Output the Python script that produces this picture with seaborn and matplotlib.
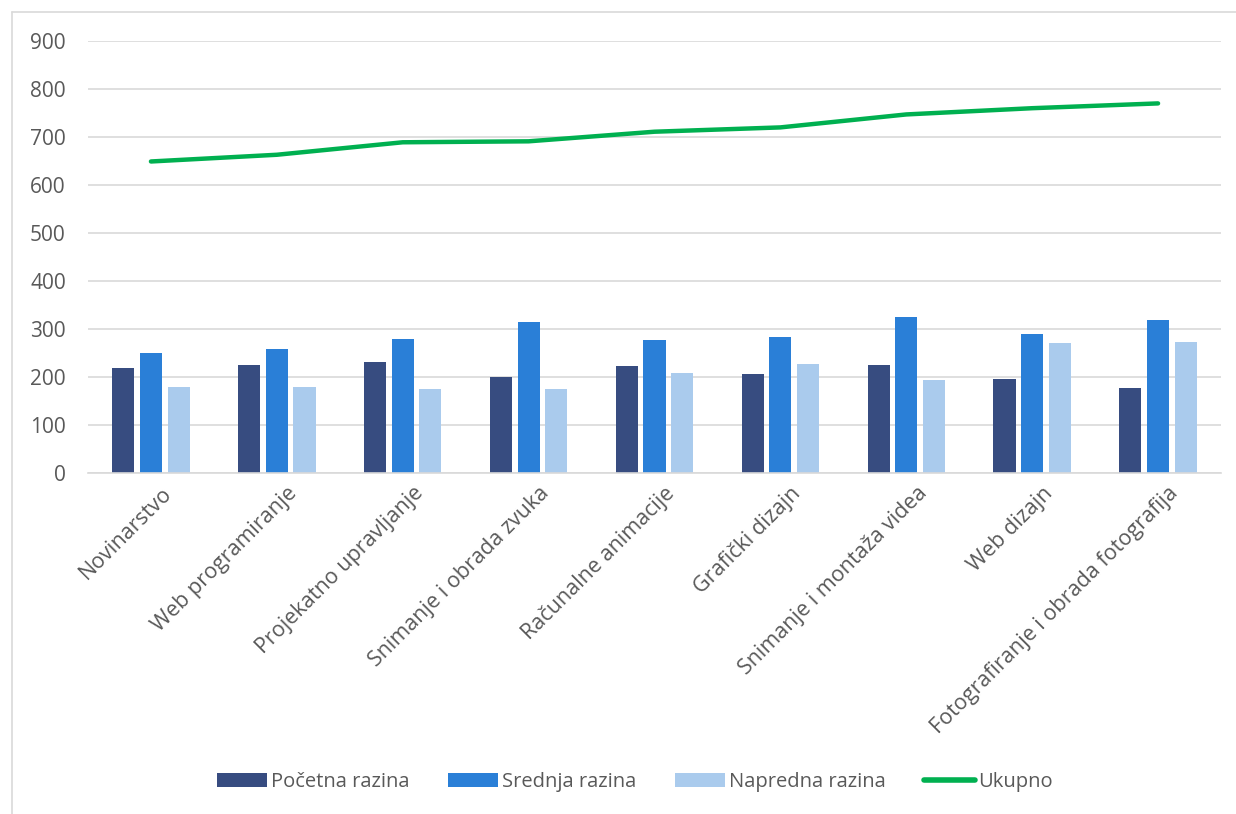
import matplotlib
matplotlib.use("Agg")
import matplotlib.pyplot as plt
import matplotlib.transforms as mtransforms
import seaborn as sns
import pandas as pd
from matplotlib.patches import Patch
from matplotlib.lines import Line2D

categories = [
    "Novinarstvo",
    "Web programiranje",
    "Projekatno upravljanje",
    "Snimanje i obrada zvuka",
    "Računalne animacije",
    "Grafički dizajn",
    "Snimanje i montaža videa",
    "Web dizajn",
    "Fotografiranje i obrada fotografija",
]
pocetna = [218, 224, 232, 200, 223, 207, 225, 195, 177]
srednja = [251, 258, 280, 314, 277, 283, 326, 289, 319]
napredna = [179, 179, 175, 174, 208, 228, 193, 271, 272]
ukupno = [649, 663, 689, 691, 711, 720, 747, 760, 770]

series_names = ["Početna razina", "Srednja razina", "Napredna razina"]
line_name = "Ukupno"
colors = ["#374C80", "#2A7FD7", "#AACBED"]
line_color = "#00B050"
text_color = "#595959"
grid_color = "#D9D9D9"

sns.set_theme(style="white")
plt.rcParams["font.family"] = ["Open Sans", "DejaVu Sans"]

df = pd.DataFrame({
    "kategorija": categories * 3,
    "razina": sum([[n] * len(categories) for n in series_names], []),
    "vrijednost": pocetna + srednja + napredna,
})

fig = plt.figure(figsize=(12.36, 8.14), dpi=100)
ax = fig.add_axes([88 / 1236, 1 - 473 / 814, (1221 - 88) / 1236, (473 - 41) / 814])

sns.barplot(data=df, x="kategorija", y="vrijednost", hue="razina",
            order=categories, hue_order=series_names, palette=colors,
            width=0.66, gap=0.2, saturation=1, legend=False, ax=ax,
            edgecolor="none")
sns.lineplot(x=list(range(len(categories))), y=ukupno, color=line_color,
             linewidth=3.2, ax=ax, solid_capstyle="round", legend=False)

ax.set_xlim(-0.5, len(categories) - 0.5)
ax.set_ylim(0, 900)
ax.set_yticks(range(0, 901, 100))
ax.yaxis.grid(True, color=grid_color, linewidth=1.2)
ax.set_axisbelow(True)
for s in ["top", "right", "left"]:
    ax.spines[s].set_visible(False)
ax.spines["bottom"].set_color(grid_color)
ax.spines["bottom"].set_linewidth(1.2)
ax.set_xlabel("")
ax.set_ylabel("")
ax.tick_params(axis="y", length=0, pad=16, labelsize=15, labelcolor=text_color)
ax.tick_params(axis="x", length=0, pad=7, labelsize=15.5, labelcolor=text_color)
ax.set_xticks(range(len(categories)))
ax.set_xticklabels(categories, rotation=45, ha="right", rotation_mode="anchor")
shift = mtransforms.ScaledTranslation(0.1, 0, fig.dpi_scale_trans)
for lbl in ax.get_xticklabels():
    lbl.set_transform(lbl.get_transform() + shift)

# outer frame (left and top edges)
fig.add_artist(Line2D([12 / 1236, 12 / 1236], [0, 1 - 12 / 814], transform=fig.transFigure,
                      color=grid_color, linewidth=1.2))
fig.add_artist(Line2D([12 / 1236, 1], [1 - 12 / 814, 1 - 12 / 814], transform=fig.transFigure,
                      color=grid_color, linewidth=1.2))

handles = [Patch(facecolor=c, edgecolor="none") for c in colors]
handles.append(Line2D([0], [0], color=line_color, linewidth=4, solid_capstyle="round"))
leg = fig.legend(handles, series_names + [line_name], loc="center",
                 bbox_to_anchor=(635 / 1236, 1 - 782 / 814), ncol=4, frameon=False,
                 fontsize=14.5, handlelength=2.5, handleheight=0.75, handletextpad=0.2,
                 columnspacing=1.9)
for t in leg.get_texts():
    t.set_color(text_color)

fig.savefig("out.png", dpi=100)
